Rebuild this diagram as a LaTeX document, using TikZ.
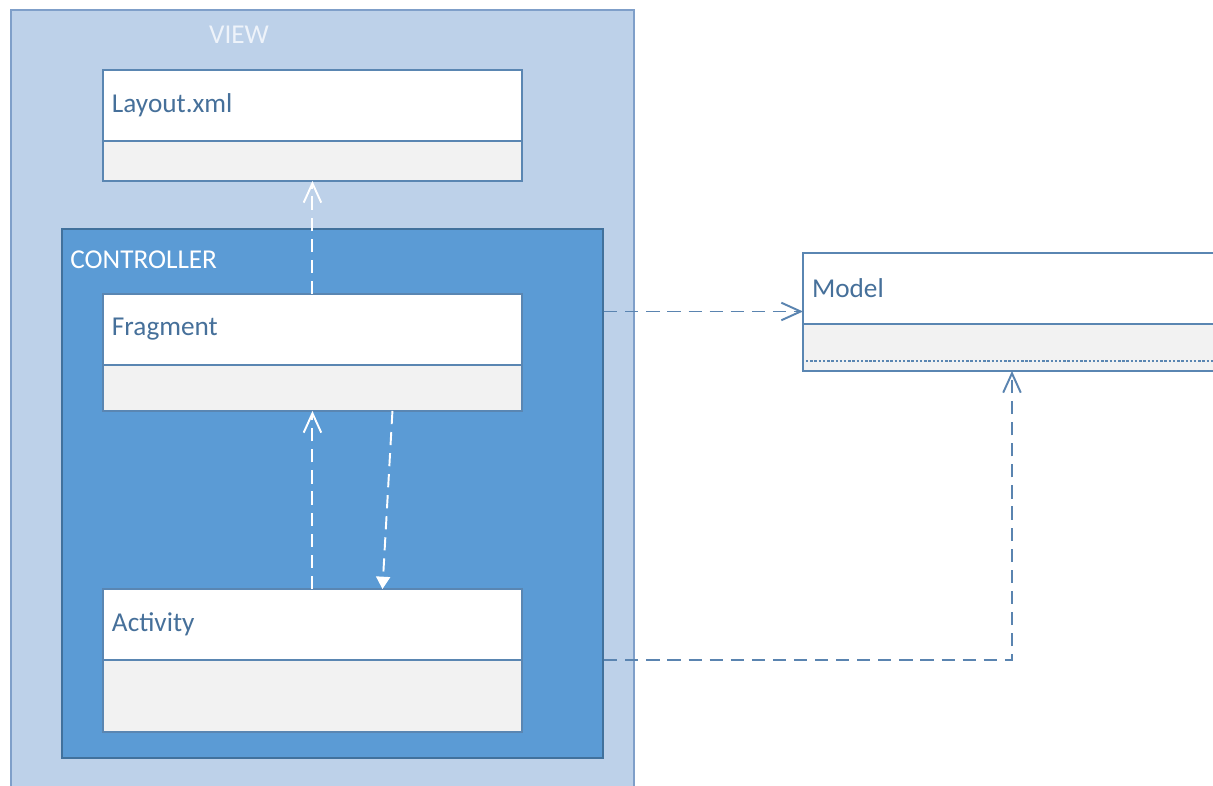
\documentclass[tikz,border=0pt]{standalone}
\usepackage{fontspec}
\setmainfont{Carlito}
\usetikzlibrary{positioning}
\usetikzlibrary{arrows.meta}

\definecolor{viewfill}{HTML}{BDD1E9}
\definecolor{viewline}{HTML}{7F9FC9}
\definecolor{viewtext}{HTML}{EEF3FA}
\definecolor{ctrlfill}{HTML}{5B9BD5}
\definecolor{ctrlline}{HTML}{41719C}
\definecolor{boxline}{HTML}{5A86B2}
\definecolor{compfill}{HTML}{F2F2F2}
\definecolor{labeltext}{HTML}{46709A}
\definecolor{linkcolor}{HTML}{5A84B0}

\tikzset{
  classhead/.style={draw=boxline, fill=white, line width=0.9pt, outer sep=0pt, inner xsep=0.18cm,
    text width=8.02cm, minimum height=1.42cm, align=left, font=\fontsize{15.5}{17}\selectfont,
    text=labeltext, anchor=north west},
  classbody/.style={draw=boxline, fill=compfill, line width=0.9pt, outer sep=0pt, inner sep=0pt,
    minimum width=8.38cm},
  darklink/.style={draw=linkcolor, line width=1.1pt, dash pattern=on 7.5pt off 4.5pt},
  lightlink/.style={draw=white, line width=1.1pt, dash pattern=on 7.5pt off 4.5pt},
  openhead/.style={-{Straight Barb[length=11pt, width=10pt, line width=1.1pt]}},
  fullhead/.style={-{Triangle[length=7pt, width=8pt]}}
}

\begin{document}
\begin{tikzpicture}[x=0.02cm, y=-0.02cm, node distance=0pt]
  \clip (0,0) rectangle (1213,786);
  \fill[white] (0,0) rectangle (1213,786);

  % view and controller packages
  \node[draw=viewline, fill=viewfill, line width=1pt, anchor=north west, inner sep=0pt,
    minimum width=12.46cm, minimum height=15.82cm] (view) at (10,9) {};
  \node[text=viewtext, font=\fontsize{15.5}{17}\selectfont, inner sep=0pt] (viewlabel) at (239,35) {VIEW};
  \node[draw=ctrlline, fill=ctrlfill, line width=1.3pt, anchor=north west, inner sep=0pt,
    minimum width=10.82cm, minimum height=10.58cm] (controller) at (61,228) {};
  \node[text=white, font=\fontsize{15.5}{17}\selectfont, inner sep=0pt, anchor=west] (ctrllabel) at (70,260) {CONTROLLER};

  % classes
  \node[classhead] (layouthead) at (103,70) {Layout.xml};
  \node[classbody, minimum height=0.8cm, below=of layouthead] (layoutbody) {};
  \node[classhead] (fraghead) at (103,294) {Fragment};
  \node[classbody, minimum height=0.92cm, below=of fraghead] (fragbody) {};
  \node[classhead] (acthead) at (103,589) {Activity};
  \node[classbody, minimum height=1.44cm, below=of acthead] (actbody) {};
  \node[classhead, text width=8.14cm] (modelhead) at (803,253) {Model};
  \node[classbody, minimum width=8.5cm, minimum height=0.94cm, below=of modelhead] (modelbody) {};
  \draw[boxline, line width=1.3pt, dash pattern=on 1.4pt off 1pt] ([xshift=0.06cm, yshift=0.2cm]modelbody.south west) -- ([yshift=0.2cm]modelbody.south east);

  % connectors
  \coordinate (tomodel) at ([yshift=-0.46cm]modelhead.west);
  \draw[lightlink, openhead] (fraghead.north) -- (layoutbody.south);
  \draw[lightlink, openhead] (acthead.north) -- (fragbody.south);
  \draw[lightlink, fullhead] ([xshift=1.6cm]fragbody.south) -- ([xshift=1.4cm]acthead.north);
  \draw[darklink, openhead] (controller.east |- tomodel) -- (tomodel);
  \draw[darklink, openhead] (actbody.north -| controller.east) -| ([xshift=4.18cm]modelbody.south west);
\end{tikzpicture}
\end{document}
